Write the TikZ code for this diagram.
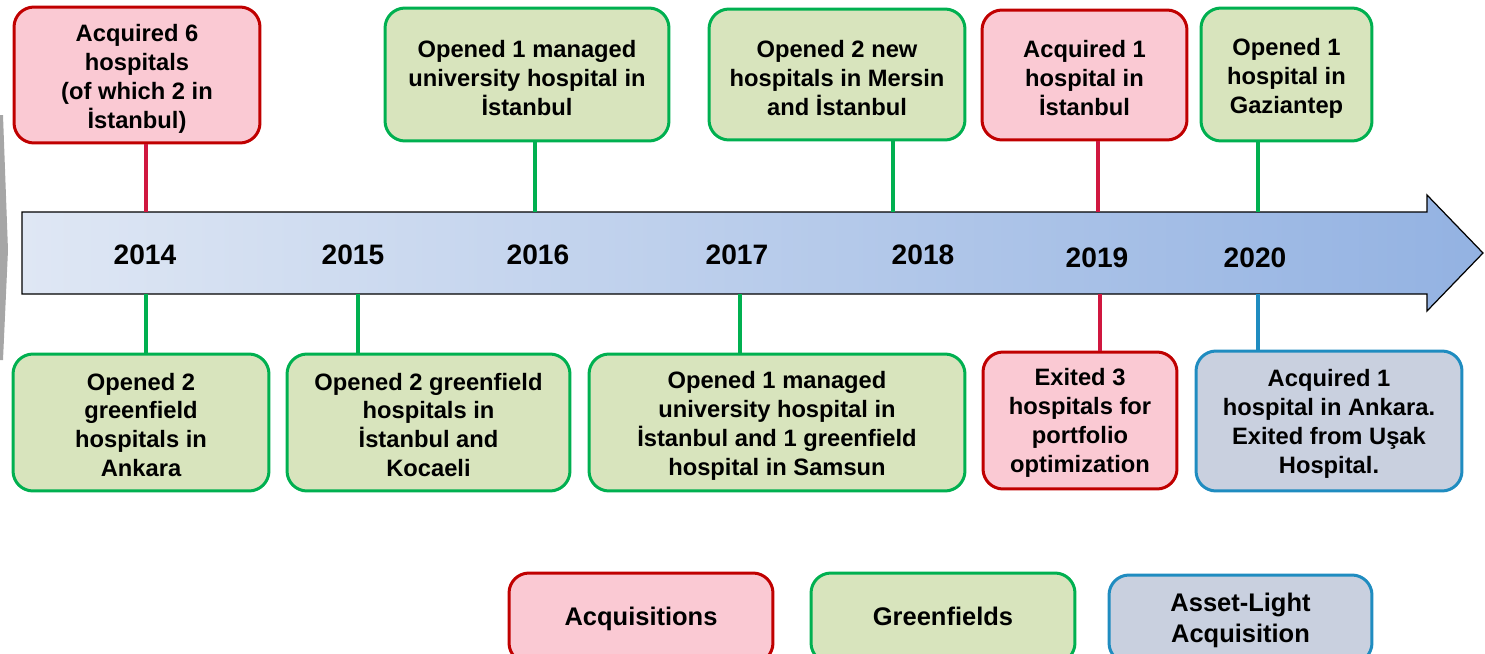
\documentclass[tikz,border=0pt]{standalone}
\usepackage{fontspec}
\setmainfont{Liberation Sans}
\definecolor{acqfill}{HTML}{FAC9D3}
\definecolor{acqborder}{HTML}{C00000}
\definecolor{acqline}{HTML}{D0173F}
\definecolor{grnfill}{HTML}{D8E4BD}
\definecolor{grnborder}{HTML}{00B050}
\definecolor{altfill}{HTML}{C9D0DF}
\definecolor{altborder}{HTML}{1F8CC0}
\definecolor{arrL}{HTML}{DFE7F4}
\definecolor{arrR}{HTML}{93B2E2}
\definecolor{chev}{HTML}{A6A6A6}
\tikzset{
  box/.style={rounded corners=0.4cm, line width=0.06cm, align=center, inner sep=0pt,
    font=\bfseries\fontsize{13.5}{16.5}\selectfont},
  txt/.style={align=center, inner sep=0pt, font=\bfseries\fontsize{13.5}{16.5}\selectfont},
  acq/.style={box, draw=acqborder, fill=acqfill},
  grn/.style={box, draw=grnborder, fill=grnfill},
  alt/.style={box, draw=altborder, fill=altfill},
  legend/.style={font=\bfseries\fontsize{14.5}{17.6}\selectfont},
  conn/.style={line width=0.07cm},
  year/.style={font=\bfseries\fontsize{16}{19}\selectfont, inner sep=0pt}
}
\begin{document}
\begin{tikzpicture}[x=0.02cm, y=-0.02cm]
\useasboundingbox (0,0) rectangle (1485,653);
% grey fragment at left edge
\fill[chev] (0,115) -- (3,115) -- (8,250) -- (3,360) -- (0,360) -- cycle;
% timeline arrow
\draw[line width=0.7pt, left color=arrL, right color=arrR]
  (22,212) -- (1427,212) -- (1427,195) -- (1483,253) -- (1427,311) -- (1427,294) -- (22,294) -- cycle;
\coordinate (atop) at (0,212);
\coordinate (abot) at (0,294);
% years
\node[year] (y14) at (145,255) {2014};
\node[year] (y15) at (353,255) {2015};
\node[year] (y16) at (538,255) {2016};
\node[year] (y17) at (737,255) {2017};
\node[year] (y18) at (923,255) {2018};
\node[year] (y19) at (1097,258) {2019};
\node[year] (y20) at (1255,258) {2020};
% connector x positions
\coordinate (cT1) at (146,0);
\coordinate (cT2) at (535,0);
\coordinate (cT3) at (893,0);
\coordinate (cT4) at (1098,0);
\coordinate (cT5) at (1258,0);
\coordinate (cB1) at (146,0);
\coordinate (cB2) at (358,0);
\coordinate (cB3) at (740,0);
\coordinate (cB4) at (1100,0);
\coordinate (cB5) at (1258,0);
% top boxes
\node[acq, minimum width=4.92cm, minimum height=2.72cm] (T1) at (137,75) {};
\node[txt] (T1x) at ([yshift=-0.07cm]T1.center) {Acquired 6\\hospitals\\(of which 2 in\\İstanbul)};
\node[grn, minimum width=5.68cm, minimum height=2.66cm] (T2) at (527,74.5) {};
\node[txt] (T2x) at ([yshift=-0.07cm]T2.center) {Opened 1 managed\\university hospital in\\İstanbul};
\node[grn, minimum width=5.12cm, minimum height=2.62cm] (T3) at (837,74.5) {};
\node[txt] (T3x) at ([yshift=-0.07cm]T3.center) {Opened 2 new\\hospitals in Mersin\\and İstanbul};
\node[acq, minimum width=4.10cm, minimum height=2.60cm] (T4) at (1084.5,75) {};
\node[txt] (T4x) at ([yshift=-0.07cm]T4.center) {Acquired 1\\hospital in\\İstanbul};
\node[grn, minimum width=3.42cm, minimum height=2.66cm] (T5) at (1286.5,74.5) {};
\node[txt] (T5x) at ([yshift=-0.07cm]T5.center) {Opened 1\\hospital in\\Gaziantep};
% bottom boxes
\node[grn, minimum width=5.12cm, minimum height=2.74cm] (B1) at (141,422.5) {};
\node[txt] (B1x) at ([yshift=-0.05cm]B1.center) {Opened 2\\greenfield\\hospitals in\\Ankara};
\node[grn, minimum width=5.66cm, minimum height=2.74cm] (B2) at (428.5,422.5) {};
\node[txt] (B2x) at ([yshift=-0.05cm]B2.center) {Opened 2 greenfield\\hospitals in\\İstanbul and\\Kocaeli};
\node[grn, minimum width=7.52cm, minimum height=2.74cm] (B3) at (777,422.5) {};
\node[txt] (B3x) at ([yshift=-0.07cm]B3.center) {Opened 1 managed\\university hospital in\\İstanbul and 1 greenfield\\hospital in Samsun};
\node[acq, minimum width=3.88cm, minimum height=2.74cm] (B4) at (1080,420.5) {};
\node[txt] (B4x) at ([yshift=-0.05cm]B4.center) {Exited 3\\hospitals for\\portfolio\\optimization};
\node[alt, minimum width=5.32cm, minimum height=2.80cm] (B5) at (1329,421) {};
\node[txt] (B5x) at ([yshift=-0.06cm]B5.center) {Acquired 1\\hospital in Ankara.\\Exited from Uşak\\Hospital.};
% connectors
\draw[conn, acqline] (T1.south -| cT1) -- (cT1 |- atop);
\draw[conn, grnborder] (T2.south -| cT2) -- (cT2 |- atop);
\draw[conn, grnborder] (T3.south -| cT3) -- (cT3 |- atop);
\draw[conn, acqline] (T4.south -| cT4) -- (cT4 |- atop);
\draw[conn, grnborder] (T5.south -| cT5) -- (cT5 |- atop);
\draw[conn, grnborder] (cB1 |- abot) -- (B1.north -| cB1);
\draw[conn, grnborder] (cB2 |- abot) -- (B2.north -| cB2);
\draw[conn, grnborder] (cB3 |- abot) -- (B3.north -| cB3);
\draw[conn, acqline] (cB4 |- abot) -- (B4.north -| cB4);
\draw[conn, altborder] (cB5 |- abot) -- (B5.north -| cB5);
% legend
\node[acq, legend, minimum width=5.28cm, minimum height=1.80cm] (L1) at (641,618) {};
\node[txt, legend] (L1x) at ([yshift=-0.02cm]L1.center) {Acquisitions};
\node[grn, legend, minimum width=5.28cm, minimum height=1.80cm] (L2) at (943,618) {};
\node[txt, legend] (L2x) at ([yshift=0.04cm]L2.center) {Greenfields};
\node[alt, legend, minimum width=5.26cm, minimum height=1.76cm] (L3) at (1240.5,619) {};
\node[txt, legend] (L3x) at ([yshift=-0.02cm]L3.center) {Asset-Light\\Acquisition};
\end{tikzpicture}
\end{document}
